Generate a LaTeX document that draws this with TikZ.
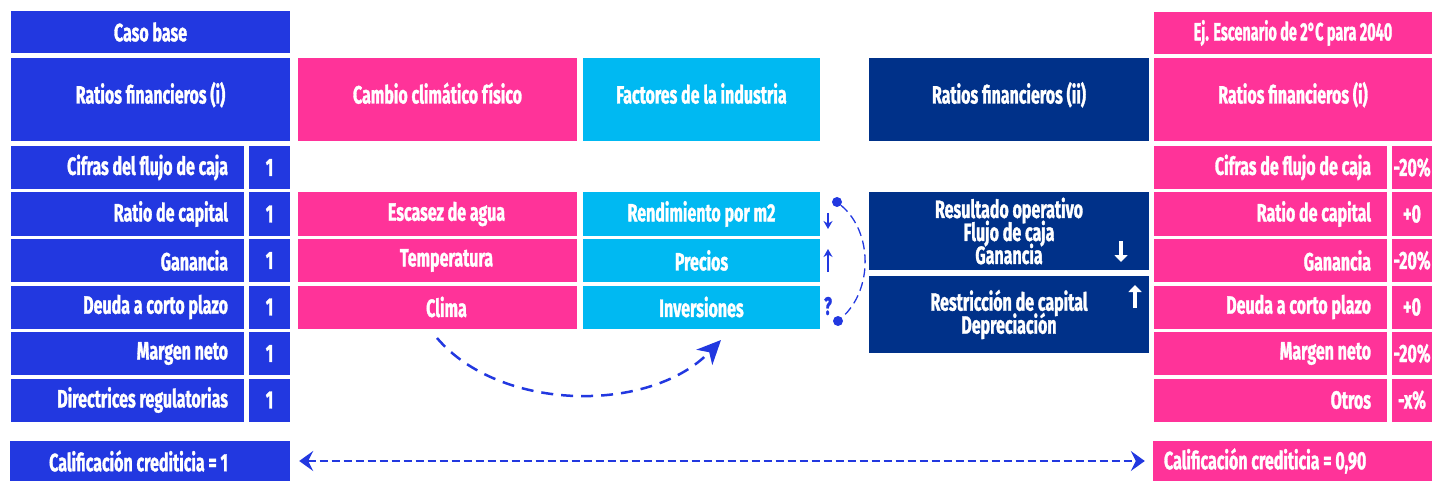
\documentclass[tikz,border=0pt]{standalone}
\usepackage{fontspec}
\setmainfont[FakeStretch=0.64, BoldFeatures={FakeBold=1.2}]{Fira Sans}
\usetikzlibrary{arrows.meta}

\definecolor{royal}{HTML}{2238E0}
\definecolor{rose}{HTML}{FF3399}
\definecolor{sky}{HTML}{00B9F2}
\definecolor{navy}{HTML}{003189}

\newcommand\boxfont{\fontsize{25}{23}\selectfont\bfseries\lineskiplimit=-30pt\lineskip=0pt}
\newcommand\rtext[1]{\makebox[201pt][r]{#1}}

\tikzset{
  cell/.style={fill=#1, text=white, inner sep=0pt, minimum height=43pt, font=\boxfont},
  headcell/.style={cell=#1, minimum height=83pt, text height=17pt, text depth=9pt},
  namecell/.style={cell=#1, minimum width=233pt},
  valcell/.style={cell=#1, minimum width=41pt},
  dot/.style={circle, fill=royal, inner sep=0pt, minimum size=10pt},
  smallarrow/.style={royal, line width=1.6pt, -{Stealth[length=8pt,width=9pt]}},
  whitearrow/.style={white, line width=4pt, -{Triangle[length=7pt,width=13pt]}},
}

\begin{document}
\begin{tikzpicture}[x=1pt, y=-1pt]
    \useasboundingbox (0,0) rectangle (1432,481);

    % Base case column
    \node[cell=royal, minimum width=279pt, minimum height=42pt] (base) at (150.5,32) {Caso base};
    \node[headcell=royal, minimum width=279pt] (ratiosA) at (150.5,99.5) {Ratios financieros (i)};

    \node[namecell=royal] (cifA) at (127.5,167.5) {\rtext{Cifras del flujo de caja}};
    \node[valcell=royal] (cifAv) at (269.5,167.5) {1};
    \node[namecell=royal] (capA) at (127.5,214) {\rtext{Ratio de capital}};
    \node[valcell=royal] (capAv) at (269.5,214) {1};
    \node[namecell=royal] (ganA) at (127.5,260.5) {\rtext{Ganancia}};
    \node[valcell=royal] (ganAv) at (269.5,260.5) {1};
    \node[namecell=royal] (deuA) at (127.5,307) {\rtext{Deuda a corto plazo}};
    \node[valcell=royal] (deuAv) at (269.5,307) {1};
    \node[namecell=royal] (marA) at (127.5,353.5) {\rtext{Margen neto}};
    \node[valcell=royal] (marAv) at (269.5,353.5) {1};
    \node[namecell=royal] (dirA) at (127.5,400) {\rtext{Directrices regulatorias}};
    \node[valcell=royal] (dirAv) at (269.5,400) {1};

    \node[cell=royal, minimum width=280pt, minimum height=40pt] (califA) at (150,461) {\makebox[280pt][r]{Calificación crediticia = 1\hspace*{62pt}}};

    % Physical climate change
    \node[headcell=rose, minimum width=279pt] (clim) at (437.5,99.5) {Cambio climático físico};
    \node[cell=rose, minimum width=279pt] (agua) at (437.5,214) {\hspace*{18pt}Escasez de agua};
    \node[cell=rose, minimum width=279pt] (temp) at (437.5,260.5) {\hspace*{18pt}Temperatura};
    \node[cell=rose, minimum width=279pt] (clima) at (437.5,307) {\hspace*{18pt}Clima};

    % Industry factors
    \node[headcell=sky, minimum width=237pt] (ind) at (701.5,99.5) {Factores de la industria};
    \node[cell=sky, minimum width=237pt] (rend) at (701.5,214) {Rendimiento por m2};
    \node[cell=sky, minimum width=237pt] (prec) at (701.5,260.5) {Precios};
    \node[cell=sky, minimum width=237pt] (inv) at (701.5,307) {Inversiones};

    \draw[smallarrow] (828,213) -- (828,229);
    \draw[smallarrow] (828,272) -- (828,249);
    \node[text=royal, font=\boxfont] (unk) at (828,306) {?};

    \node[dot] (dtop) at (837,202) {};
    \node[dot] (dbot) at (838,321) {};
    \draw[royal, line width=1.3pt, dash pattern=on 9pt off 5pt] (dtop) .. controls (873,232) and (873,290) .. (dbot);

    % Financial ratios (ii)
    \node[headcell=navy, minimum width=280pt] (ratiosB) at (1009,99.5) {Ratios financieros (ii)};
    \node[cell=navy, minimum width=280pt, minimum height=78pt, align=center] (res) at (1009,231) {Resultado operativo\\Flujo de caja\\Ganancia};
    \node[cell=navy, minimum width=280pt, minimum height=77pt, align=center] (restr) at (1009,314.5) {Restricción de capital\\Depreciación};
    \draw[whitearrow] (1121,241) -- (1121,262);
    \draw[whitearrow] (1135,308) -- (1135,285);

    % 2 degree scenario column
    \node[cell=rose, minimum width=278pt, minimum height=42pt] (esc) at (1293,33) {\scalebox{0.9}[1]{Ej. Escenario de 2°C para 2040}};
    \node[headcell=rose, minimum width=278pt] (ratiosC) at (1293,99.5) {Ratios financieros (i)};

    \node[namecell=rose] (cifC) at (1270.5,167.5) {\rtext{Cifras de flujo de caja}};
    \node[valcell=rose, minimum width=40pt] (cifCv) at (1412,167.5) {-20\%};
    \node[namecell=rose] (capC) at (1270.5,214) {\rtext{Ratio de capital}};
    \node[valcell=rose, minimum width=40pt] (capCv) at (1412,214) {+0};
    \node[namecell=rose] (ganC) at (1270.5,260.5) {\rtext{Ganancia}};
    \node[valcell=rose, minimum width=40pt] (ganCv) at (1412,260.5) {-20\%};
    \node[namecell=rose] (deuC) at (1270.5,307) {\rtext{Deuda a corto plazo}};
    \node[valcell=rose, minimum width=40pt] (deuCv) at (1412,307) {+0};
    \node[namecell=rose] (marC) at (1270.5,353.5) {\rtext{Margen neto}};
    \node[valcell=rose, minimum width=40pt] (marCv) at (1412,353.5) {-20\%};
    \node[namecell=rose] (otrC) at (1270.5,400) {\rtext{Otros}};
    \node[valcell=rose, minimum width=40pt] (otrCv) at (1412,400) {-x\%};

    \node[cell=rose, minimum width=279pt, minimum height=40pt] (califC) at (1292.5,461) {\makebox[257pt][l]{Calificación crediticia = 0,90}};

    % Connectors
    \coordinate (arcA) at (437,338);
    \coordinate (arcB) at (721,340);
    \draw[royal, line width=2.5pt, dash pattern=on 12pt off 8pt, -{Stealth[length=24pt,width=22pt,inset=7pt]}] (arcA) .. controls (500,412) and (650,414) .. (arcB);

    \draw[royal, line width=2pt, dash pattern=on 8pt off 4pt, {Stealth[length=14pt,width=20pt,inset=5pt]}-{Stealth[length=14pt,width=20pt,inset=5pt]}, shorten <=9pt, shorten >=8pt] (califA) -- (califC);
\end{tikzpicture}
\end{document}
